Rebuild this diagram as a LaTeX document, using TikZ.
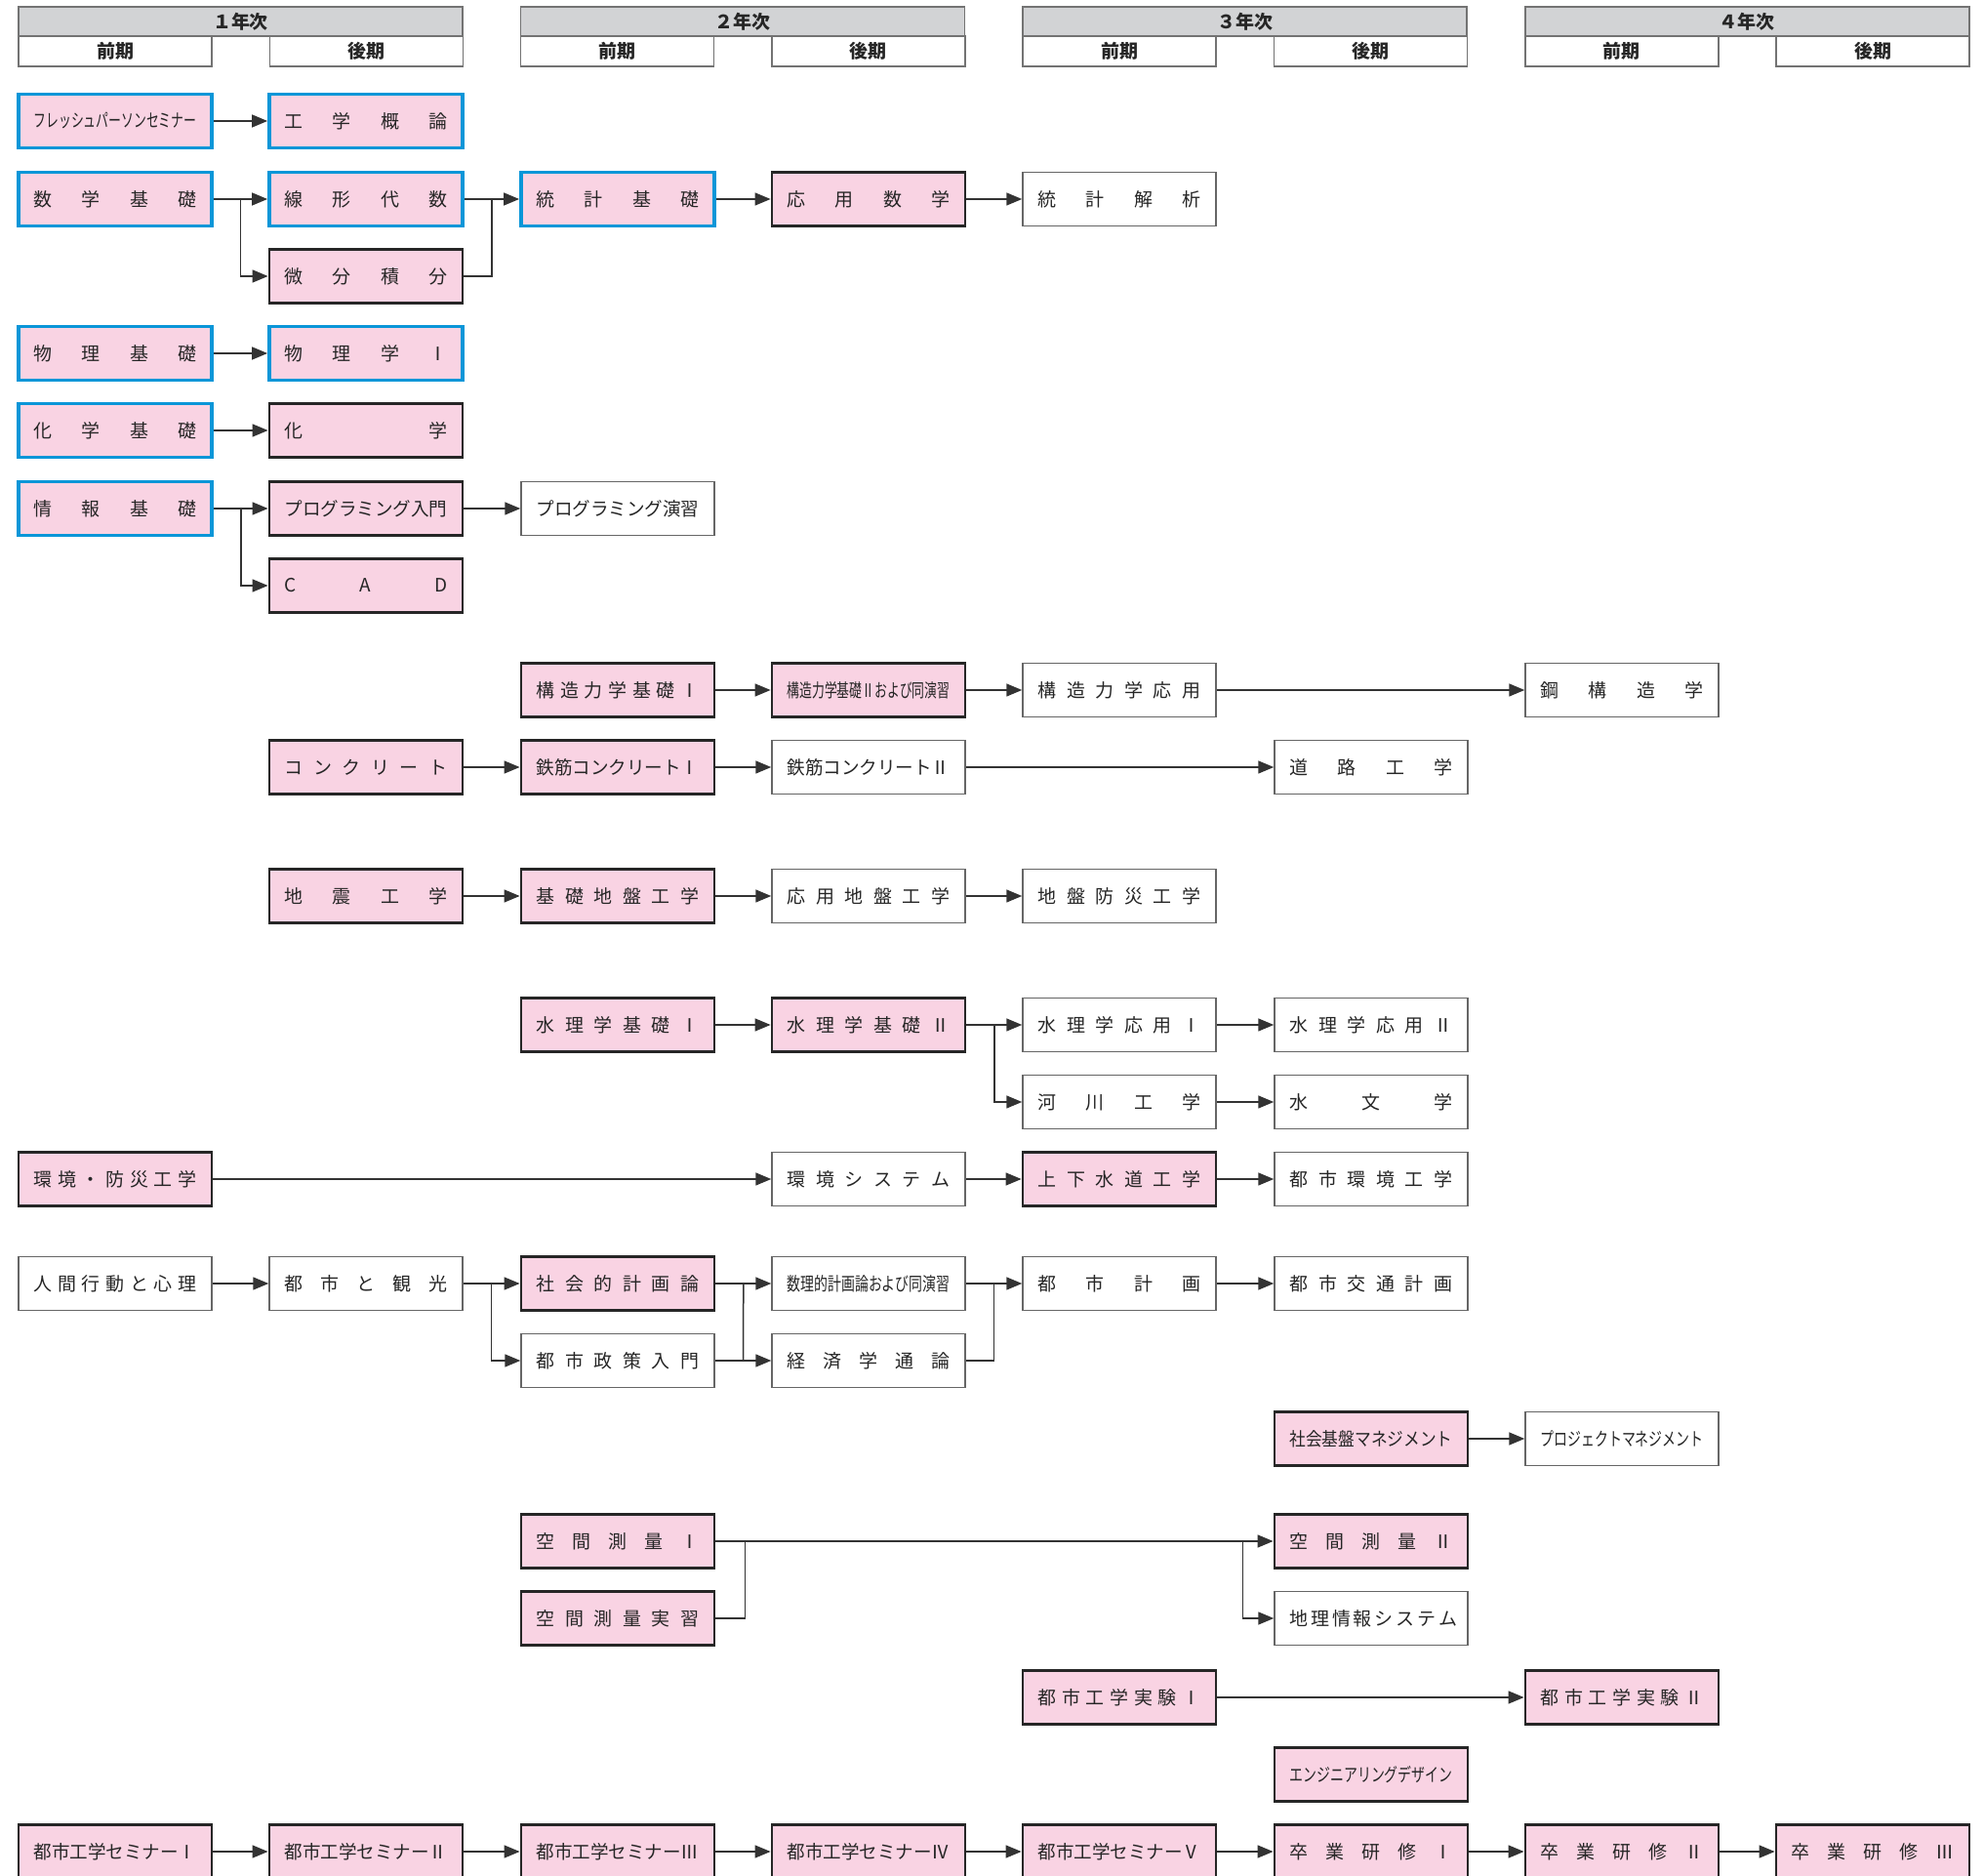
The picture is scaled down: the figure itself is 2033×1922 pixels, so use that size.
\documentclass[tikz,border=0pt]{standalone}
\usepackage{fontspec}
\usepackage{graphicx}
\setmainfont{Noto Sans CJK JP}
\usepackage{tikz}
\usetikzlibrary{calc, arrows.meta}

\definecolor{kpink}{HTML}{F9D3E3}
\definecolor{kblue}{HTML}{0A96D8}
\definecolor{hgray}{HTML}{D2D3D5}

% label helpers: spread over the box, or squeeze to the box
\newlength{\lblw}\setlength{\lblw}{16.7mm}
\newcommand{\spreadlbl}[1]{\makebox[\lblw][s]{#1}}
\newcommand{\fitlbl}[1]{\resizebox{\lblw}{\height}{#1}}

\tikzset{
  box/.style={rectangle, minimum width=19.8mm, minimum height=5.5mm, inner sep=0pt,
    text=black!85, font=\fontsize{5.4pt}{6.5pt}\selectfont},
  bluebox/.style={box, fill=kpink, draw=kblue, line width=0.38mm},
  pinkbox/.style={box, fill=kpink, draw=black!85, line width=0.28mm},
  whitebox/.style={box, fill=white, draw=black!60, line width=0.15mm},
  yearbox/.style={rectangle, minimum width=45.5mm, minimum height=3mm, inner sep=0pt,
    fill=hgray, draw=black!55, line width=0.15mm, text=black!85,
    font=\fontsize{5.4pt}{6.5pt}\selectfont\bfseries},
  termbox/.style={yearbox, minimum width=19.8mm, minimum height=3.1mm, fill=white},
  arr/.style={-{Triangle[length=1.6mm, width=1.3mm]}, line width=0.15mm, draw=black!80},
  link/.style={line width=0.15mm, draw=black!80}
}

\begin{document}
\begin{tikzpicture}[x=0.1mm, y=-0.1mm]
  \useasboundingbox (0,0) rectangle (2033,1922);

  % Year and term headers
  \foreach \yr [count=\i from 0] in {１,２,３,４} {
    \node[yearbox] (year\i) at ({246.5+514.6*\i},22) {\yr 年次};
    \node[termbox] (zen\i) at ({118+514.6*\i},52.5) {前期};
    \node[termbox] (kou\i) at ({375.3+514.6*\i},52.5) {後期};
  }

  % Basic courses
  \node[bluebox] (fresh) at (118,124) {\fitlbl{フレッシュパーソンセミナー}};
  \node[bluebox] (kougaku) at (375,124) {\spreadlbl{工 学 概 論}};

  \node[bluebox] (sugaku) at (118,204) {\spreadlbl{数 学 基 礎}};
  \node[bluebox] (senkei) at (375,204) {\spreadlbl{線 形 代 数}};
  \node[bluebox] (toukei) at (633,204) {\spreadlbl{統 計 基 礎}};
  \node[pinkbox] (ouyousu) at (890,204) {\spreadlbl{応 用 数 学}};
  \node[whitebox] (kaiseki) at (1147,204) {\spreadlbl{統 計 解 析}};
  \node[pinkbox] (bibun) at (375,283) {\spreadlbl{微 分 積 分}};

  \node[bluebox] (butsuri) at (118,362) {\spreadlbl{物 理 基 礎}};
  \node[bluebox] (butsuri1) at (375,362) {\spreadlbl{物 理 学 Ⅰ}};

  \node[bluebox] (kagakuk) at (118,441) {\spreadlbl{化 学 基 礎}};
  \node[pinkbox] (kagaku) at (375,441) {\spreadlbl{化 学}};

  \node[bluebox] (jouhou) at (118,521) {\spreadlbl{情 報 基 礎}};
  \node[pinkbox] (prog) at (375,521) {\fitlbl{プログラミング入門}};
  \node[whitebox] (progen) at (633,521) {\fitlbl{プログラミング演習}};
  \node[pinkbox] (cad) at (375,600) {\spreadlbl{C A D}};

  % Structures and materials
  \node[pinkbox] (kouzou1) at (633,707) {\spreadlbl{構 造 力 学 基 礎 Ⅰ}};
  \node[pinkbox] (kouzou2) at (890,707) {\fitlbl{構造力学基礎Ⅱおよび同演習}};
  \node[whitebox] (kouzouou) at (1147,707) {\spreadlbl{構 造 力 学 応 用}};
  \node[whitebox] (kou) at (1662,707) {\spreadlbl{鋼 構 造 学}};

  \node[pinkbox] (concrete) at (375,786) {\spreadlbl{コ ン ク リ ー ト}};
  \node[pinkbox] (tekkin1) at (633,786) {\fitlbl{鉄筋コンクリートⅠ}};
  \node[whitebox] (tekkin2) at (890,786) {\fitlbl{鉄筋コンクリートⅡ}};
  \node[whitebox] (douro) at (1405,786) {\spreadlbl{道 路 工 学}};

  \node[pinkbox] (jishin) at (375,918) {\spreadlbl{地 震 工 学}};
  \node[pinkbox] (kiso) at (633,918) {\spreadlbl{基 礎 地 盤 工 学}};
  \node[whitebox] (oujiban) at (890,918) {\spreadlbl{応 用 地 盤 工 学}};
  \node[whitebox] (bousai) at (1147,918) {\spreadlbl{地 盤 防 災 工 学}};

  % Water and environment
  \node[pinkbox] (suiri1) at (633,1050) {\spreadlbl{水 理 学 基 礎 Ⅰ}};
  \node[pinkbox] (suiri2) at (890,1050) {\spreadlbl{水 理 学 基 礎 Ⅱ}};
  \node[whitebox] (suiou1) at (1147,1050) {\spreadlbl{水 理 学 応 用 Ⅰ}};
  \node[whitebox] (suiou2) at (1405,1050) {\spreadlbl{水 理 学 応 用 Ⅱ}};
  \node[whitebox] (kasen) at (1147,1129) {\spreadlbl{河 川 工 学}};
  \node[whitebox] (suimon) at (1405,1129) {\spreadlbl{水 文 学}};

  \node[pinkbox] (kankyo) at (118,1208) {\spreadlbl{環 境 ・ 防 災 工 学}};
  \node[whitebox] (kansys) at (890,1208) {\spreadlbl{環 境 シ ス テ ム}};
  \node[pinkbox] (gesui) at (1147,1208) {\spreadlbl{上 下 水 道 工 学}};
  \node[whitebox] (toshikan) at (1405,1208) {\spreadlbl{都 市 環 境 工 学}};

  % Planning
  \node[whitebox] (ningen) at (118,1315) {\spreadlbl{人 間 行 動 と 心 理}};
  \node[whitebox] (kankou) at (375,1315) {\spreadlbl{都 市 と 観 光}};
  \node[pinkbox] (shakai) at (633,1315) {\spreadlbl{社 会 的 計 画 論}};
  \node[whitebox] (suuri) at (890,1315) {\fitlbl{数理的計画論および同演習}};
  \node[whitebox] (toshikei) at (1147,1315) {\spreadlbl{都 市 計 画}};
  \node[whitebox] (koutsuu) at (1405,1315) {\spreadlbl{都 市 交 通 計 画}};
  \node[whitebox] (seisaku) at (633,1394) {\spreadlbl{都 市 政 策 入 門}};
  \node[whitebox] (keizai) at (890,1394) {\spreadlbl{経 済 学 通 論}};

  \node[pinkbox] (kiban) at (1405,1474) {\fitlbl{社会基盤マネジメント}};
  \node[whitebox] (project) at (1662,1474) {\fitlbl{プロジェクトマネジメント}};

  % Surveying
  \node[pinkbox] (sokuryo1) at (633,1579) {\spreadlbl{空 間 測 量 Ⅰ}};
  \node[pinkbox] (sjisshu) at (633,1658) {\spreadlbl{空 間 測 量 実 習}};
  \node[pinkbox] (sokuryo2) at (1405,1579) {\spreadlbl{空 間 測 量 Ⅱ}};
  \node[whitebox] (chiri) at (1405,1658) {\spreadlbl{地 理 情 報 シ ス テ ム}};

  % Experiments, design, seminars
  \node[pinkbox] (jikken1) at (1147,1739) {\spreadlbl{都 市 工 学 実 験 Ⅰ}};
  \node[pinkbox] (jikken2) at (1662,1739) {\spreadlbl{都 市 工 学 実 験 Ⅱ}};
  \node[pinkbox] (design) at (1405,1818) {\fitlbl{エンジニアリングデザイン}};

  \node[pinkbox] (semi1) at (118,1897) {\fitlbl{都市工学セミナーⅠ}};
  \node[pinkbox] (semi2) at (375,1897) {\fitlbl{都市工学セミナーⅡ}};
  \node[pinkbox] (semi3) at (633,1897) {\fitlbl{都市工学セミナーⅢ}};
  \node[pinkbox] (semi4) at (890,1897) {\fitlbl{都市工学セミナーⅣ}};
  \node[pinkbox] (semi5) at (1147,1897) {\fitlbl{都市工学セミナーⅤ}};
  \node[pinkbox] (sotsu1) at (1405,1897) {\spreadlbl{卒 業 研 修 Ⅰ}};
  \node[pinkbox] (sotsu2) at (1662,1897) {\spreadlbl{卒 業 研 修 Ⅱ}};
  \node[pinkbox] (sotsu3) at (1919,1897) {\spreadlbl{卒 業 研 修 Ⅲ}};

  % Straight arrows
  \foreach \a/\b in {fresh/kougaku, sugaku/senkei, senkei/toukei, toukei/ouyousu,
      ouyousu/kaiseki, butsuri/butsuri1, kagakuk/kagaku, jouhou/prog, prog/progen,
      kouzou1/kouzou2, kouzou2/kouzouou, kouzouou/kou, concrete/tekkin1,
      tekkin1/tekkin2, tekkin2/douro, jishin/kiso, kiso/oujiban, oujiban/bousai,
      suiri1/suiri2, suiri2/suiou1, suiou1/suiou2, kasen/suimon,
      kankyo/kansys, kansys/gesui, gesui/toshikan,
      ningen/kankou, kankou/shakai, shakai/suuri, seisaku/keizai,
      suuri/toshikei, toshikei/koutsuu, kiban/project, sokuryo1/sokuryo2,
      jikken1/jikken2, semi1/semi2, semi2/semi3, semi3/semi4, semi4/semi5,
      semi5/sotsu1, sotsu1/sotsu2, sotsu2/sotsu3}
    \draw[arr] (\a) -- (\b);

  % Forks
  \draw[arr] ($(sugaku.east)!0.5!(senkei.west)$) |- (bibun.west);
  \draw[arr] ($(jouhou.east)!0.5!(prog.west)$) |- (cad.west);
  \draw[arr] ($(suiri2.east)!0.5!(suiou1.west)$) |- (kasen.west);
  \draw[arr] ($(kankou.east)!0.5!(shakai.west)$) |- (seisaku.west);
  \draw[arr] ($(sokuryo2.west)+(-31,0)$) |- (chiri.west);

  % Merges
  \draw[link] (bibun.east) -| ($(senkei.east)!0.5!(toukei.west)$);
  \draw[link] ($(shakai.east)!0.5!(suuri.west)$) -- ($(seisaku.east)!0.5!(keizai.west)$);
  \draw[link] (keizai.east) -| ($(suuri.east)!0.5!(toshikei.west)$);
  \draw[link] (sjisshu.east) -| ($(sokuryo1.east)+(30,0)$);
\end{tikzpicture}
\end{document}
